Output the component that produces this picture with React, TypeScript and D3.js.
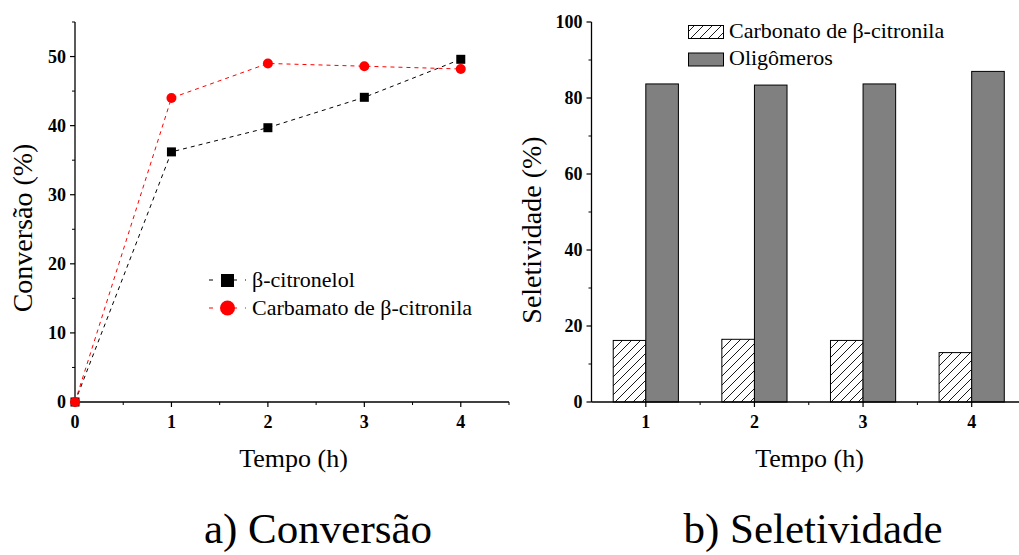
import React from 'react'
import * as d3 from 'd3'

// ---- data ----
const tempo = [0, 1, 2, 3, 4]
const citronelol = [0, 36.2, 39.7, 44.1, 49.6]
const carbamato = [0, 44.0, 49.0, 48.6, 48.2]

const tempoBar = [1, 2, 3, 4]
const carbonato = [16.2, 16.5, 16.2, 13.0]
const oligomeros = [83.7, 83.4, 83.7, 87.0]

const convTicks = [0, 10, 20, 30, 40, 50]
const selTicks = [0, 20, 40, 60, 80, 100]

const App = () => {
    // left panel scales
    const xL = d3.scaleLinear().domain([0, 4.5]).range([75, 509])
    const yL = d3.scaleLinear().domain([0, 55]).range([402, 22])

    // right panel scales
    const xR = d3.scaleLinear().domain([0.5, 4.5]).range([591.5, 1026])
    const yR = d3.scaleLinear().domain([0, 100]).range([402, 22])
    const barW = xR(1.3) - xR(1)

    const line = d3.line<number>()
        .x((d, i) => xL(tempo[i]))
        .y(d => yL(d))

    const minorL_y = d3.range(5, 56, 10)
    const minorL_x = d3.range(0.5, 4.6, 1)
    const minorR_y = d3.range(10, 100, 20)
    const minorR_x = [1.5, 2.5, 3.5, 4.5]

    return (
        <svg width={1019} height={555}
            style={{ position: 'absolute', left: 0, top: 0, background: '#fff' }}>
            <style>{`text { font-family: 'Times New Roman', 'Liberation Serif', serif; }`}</style>
            <defs>
                <pattern id="hatch" patternUnits="userSpaceOnUse" width={9} height={9}>
                    <rect width={9} height={9} fill="#fff" />
                    <path d="M0,9 L9,0 M-2,2 L2,-2 M7,11 L11,7" stroke="#000" strokeWidth={0.9} />
                </pattern>
            </defs>

            {/* ===== a) Conversao ===== */}
            <g>
                {/* axes */}
                <line x1={xL(0)} x2={xL(0)} y1={yL(0)} y2={yL(55)} stroke="#000" strokeWidth={1.3} />
                <line x1={xL(0)} x2={xL(4.5)} y1={yL(0)} y2={yL(0)} stroke="#000" strokeWidth={1.3} />
                {convTicks.map(t => (
                    <g key={'yl' + t}>
                        <line x1={xL(0) - 5} x2={xL(0)} y1={yL(t)} y2={yL(t)} stroke="#000" strokeWidth={1.2} />
                        <text x={xL(0) - 9} y={yL(t) + 6} textAnchor="end" fontSize={18} fontWeight="bold">{t}</text>
                    </g>
                ))}
                {minorL_y.map(t => (
                    <line key={'myl' + t} x1={xL(0) - 3} x2={xL(0)} y1={yL(t)} y2={yL(t)} stroke="#000" strokeWidth={1} />
                ))}
                {tempo.map(t => (
                    <g key={'xl' + t}>
                        <line x1={xL(t)} x2={xL(t)} y1={yL(0)} y2={yL(0) + 5} stroke="#000" strokeWidth={1.2} />
                        <text x={xL(t)} y={428} textAnchor="middle" fontSize={18} fontWeight="bold">{t}</text>
                    </g>
                ))}
                {minorL_x.map(t => (
                    <line key={'mxl' + t} x1={xL(t)} x2={xL(t)} y1={yL(0)} y2={yL(0) + 3} stroke="#000" strokeWidth={1} />
                ))}

                {/* series */}
                <path d={line(citronelol) || ''} fill="none" stroke="#000" strokeWidth={1} strokeDasharray="4,4" />
                <path d={line(carbamato) || ''} fill="none" stroke="#ff0000" strokeWidth={1} strokeDasharray="4,4" />
                {citronelol.map((v, i) => (
                    <rect key={'sq' + i} x={xL(tempo[i]) - 4.5} y={yL(v) - 4.5} width={9} height={9} fill="#000" />
                ))}
                {carbamato.map((v, i) => (
                    <circle key={'ci' + i} cx={xL(tempo[i])} cy={yL(v)} r={5} fill="#ff0000" />
                ))}

                {/* legend */}
                <line x1={209} x2={246} y1={280} y2={280} stroke="#000" strokeDasharray="4,8" />
                <rect x={221} y={274} width={13} height={13} fill="#000" />
                <text x={252} y={287} fontSize={22}>β-citronelol</text>
                <line x1={209} x2={246} y1={308} y2={308} stroke="#ff0000" strokeDasharray="4,8" />
                <circle cx={227.5} cy={308} r={7.5} fill="#ff0000" />
                <text x={252} y={315} fontSize={22}>Carbamato de β-citronila</text>

                {/* labels */}
                <text transform="translate(32,228) rotate(-90)" textAnchor="middle" fontSize={28}>Conversão (%)</text>
                <text x={293.5} y={467} textAnchor="middle" fontSize={26}>Tempo (h)</text>
                <text x={318} y={543} textAnchor="middle" fontSize={43}>a) Conversão</text>
            </g>

            {/* ===== b) Seletividade ===== */}
            <g>
                {/* bars */}
                {carbonato.map((v, i) => (
                    <rect key={'hb' + i} x={xR(tempoBar[i]) - barW} y={yR(v)} width={barW} height={yR(0) - yR(v)}
                        fill="url(#hatch)" stroke="#000" strokeWidth={1} />
                ))}
                {oligomeros.map((v, i) => (
                    <rect key={'gb' + i} x={xR(tempoBar[i])} y={yR(v)} width={barW} height={yR(0) - yR(v)}
                        fill="#808080" stroke="#000" strokeWidth={1} />
                ))}

                {/* axes */}
                <line x1={xR(0.5)} x2={xR(0.5)} y1={yR(0)} y2={yR(100)} stroke="#000" strokeWidth={1.3} />
                <line x1={xR(0.5)} x2={xR(4.5)} y1={yR(0)} y2={yR(0)} stroke="#000" strokeWidth={1.3} />
                {selTicks.map(t => (
                    <g key={'yr' + t}>
                        <line x1={xR(0.5) - 5} x2={xR(0.5)} y1={yR(t)} y2={yR(t)} stroke="#000" strokeWidth={1.2} />
                        <text x={xR(0.5) - 9} y={yR(t) + 6} textAnchor="end" fontSize={18} fontWeight="bold">{t}</text>
                    </g>
                ))}
                {minorR_y.map(t => (
                    <line key={'myr' + t} x1={xR(0.5) - 3} x2={xR(0.5)} y1={yR(t)} y2={yR(t)} stroke="#000" strokeWidth={1} />
                ))}
                {tempoBar.map(t => (
                    <g key={'xr' + t}>
                        <line x1={xR(t)} x2={xR(t)} y1={yR(0)} y2={yR(0) + 5} stroke="#000" strokeWidth={1.2} />
                        <text x={xR(t)} y={428} textAnchor="middle" fontSize={18} fontWeight="bold">{t}</text>
                    </g>
                ))}
                {minorR_x.map(t => (
                    <line key={'mxr' + t} x1={xR(t)} x2={xR(t)} y1={yR(0)} y2={yR(0) + 3} stroke="#000" strokeWidth={1} />
                ))}

                {/* legend */}
                <rect x={688.5} y={25.5} width={35} height={13} fill="url(#hatch)" stroke="#000" strokeWidth={1} />
                <text x={729} y={38} fontSize={22}>Carbonato de β-citronila</text>
                <rect x={688.5} y={53} width={35} height={13} fill="#808080" stroke="#000" strokeWidth={1} />
                <text x={729} y={65} fontSize={22}>Oligômeros</text>

                {/* labels */}
                <text transform="translate(541,230) rotate(-90)" textAnchor="middle" fontSize={28}>Seletividade (%)</text>
                <text x={809.5} y={467} textAnchor="middle" fontSize={26}>Tempo (h)</text>
                <text x={813} y={543} textAnchor="middle" fontSize={43}>b) Seletividade</text>
            </g>
        </svg>
    )
}

export default App
